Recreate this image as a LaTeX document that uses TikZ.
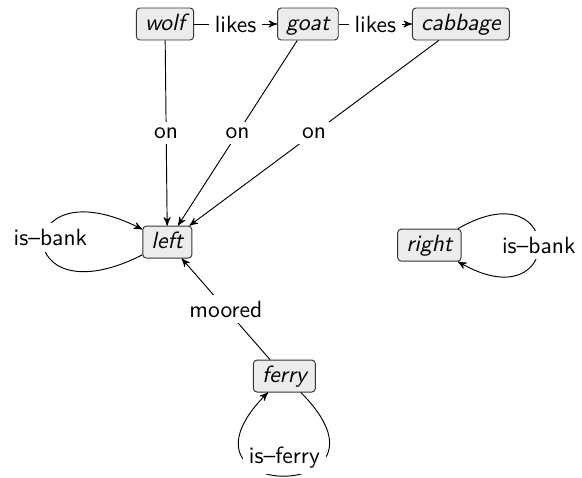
\documentclass[tikz,border=0pt]{standalone}
\usepackage{tikz}
\usetikzlibrary{arrows}

\begin{document}
\begin{tikzpicture}[->,>=stealth',thin,x=0.4255pt,y=-0.4255pt,font=\sffamily]
\tikzstyle{thing}=[shape=rectangle,draw=black!80,fill=gray!15,rounded corners=1.5pt,inner xsep=3.7pt,inner ysep=3pt,text height=6.6pt,text depth=1pt,font=\sffamily\itshape]
\tikzstyle{rel}=[fill=white,inner sep=2.5pt,anchor=center]

\useasboundingbox (0,0) rectangle (582,478);

\node[thing]		(W) at (165,24)                                   {wolf};
\node[thing]        (G) [right of=W, node distance=60.8pt]             {goat};
\node[thing]        (C) [right of=G, node distance=65.1pt]             {cabbage};
\node[thing]		(L) [below of=W, node distance=92.8pt, xshift=1pt] {left};
\node[thing]		(R) [right of=L, node distance=111.5pt, yshift=-1.3pt] {right};
\node[thing]		(F) [below of=L, node distance=57pt, xshift=49.8pt] {ferry};

\path
(W) edge node[rel] {likes} (G)
(G) edge node[rel] {likes} (C)
(W) edge node[rel] {on} (L)
(G) edge node[rel] {on} (L)
(C) edge node[rel] {on} (L)
(F) edge node[rel] {moored} (L)
(L) edge [out=207,in=153,distance=63pt] node[rel,xshift=3pt,yshift=2pt] {is--bank} (L)
(R) edge [out=30,in=-30,distance=53pt] node[rel] {is--bank} (R)
(F) edge [out=-45,in=-135,distance=67pt] node[rel,yshift=8pt] {is--ferry} (F)
;
\end{tikzpicture}
\end{document}
